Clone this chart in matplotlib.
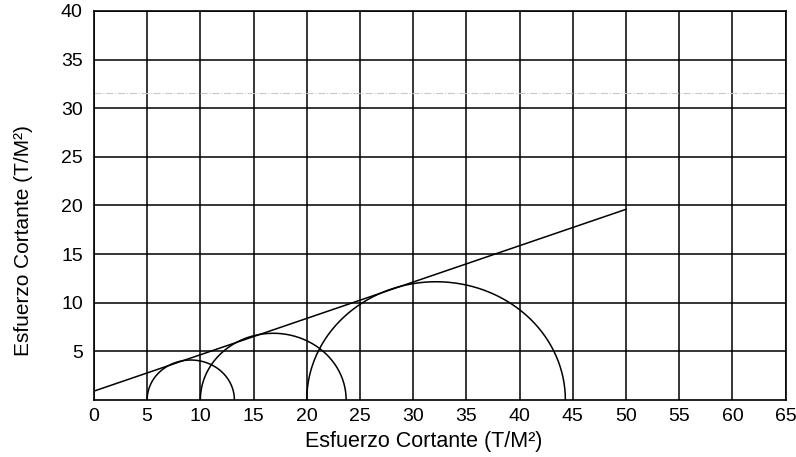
import numpy as np
import matplotlib.pyplot as plt

plt.rcParams['font.family'] = ['Liberation Sans', 'DejaVu Sans']

# Mohr circles: (left stress, right stress) on the x axis
circle_left = [5.0, 10.0, 20.0]
circle_right = [13.2, 23.7, 44.3]

# failure envelope, read at its two ends
envelope_x = [0, 50]
envelope_y = [0.9, 19.6]

x_ticks = list(range(0, 70, 5))
y_ticks = list(range(5, 45, 5))


def main():
    fig = plt.figure(figsize=(7.96, 4.57), dpi=100)
    ax = fig.add_axes([0.118, 0.125, 0.869, 0.851])
    ax.set_xlim(0, 65)
    ax.set_ylim(0, 40)
    ax.set_xticks(x_ticks)
    ax.set_yticks(y_ticks)
    ax.grid(True, color='black', linewidth=1.1)
    ax.set_axisbelow(True)
    ax.tick_params(length=0, labelsize=14)
    ax.tick_params(axis='y', pad=8)
    ax.tick_params(axis='x', pad=6)
    for sp in ax.spines.values():
        sp.set_linewidth(1.2)

    theta = np.linspace(0, np.pi, 200)
    for lo, hi in zip(circle_left, circle_right):
        c = (lo + hi) / 2
        r = (hi - lo) / 2
        ax.plot(c + r*np.cos(theta), r*np.sin(theta), color='black', linewidth=1.1)

    ax.plot(envelope_x, envelope_y, color='black', linewidth=1.1)

    # faint scan line across the sheet
    ax.axhline(31.6, color='#c8c8c8', linewidth=0.8, linestyle='-.')

    ax.set_xlabel('Esfuerzo Cortante (T/M²)', fontsize=15.5)
    ax.xaxis.set_label_coords(0.477, -0.08)
    ax.set_ylabel('Esfuerzo Cortante (T/M²)', fontsize=15)
    ax.yaxis.set_label_coords(-0.088, 0.41)

    fig.savefig('out.png', dpi=100)


if __name__ == '__main__':
    main()
